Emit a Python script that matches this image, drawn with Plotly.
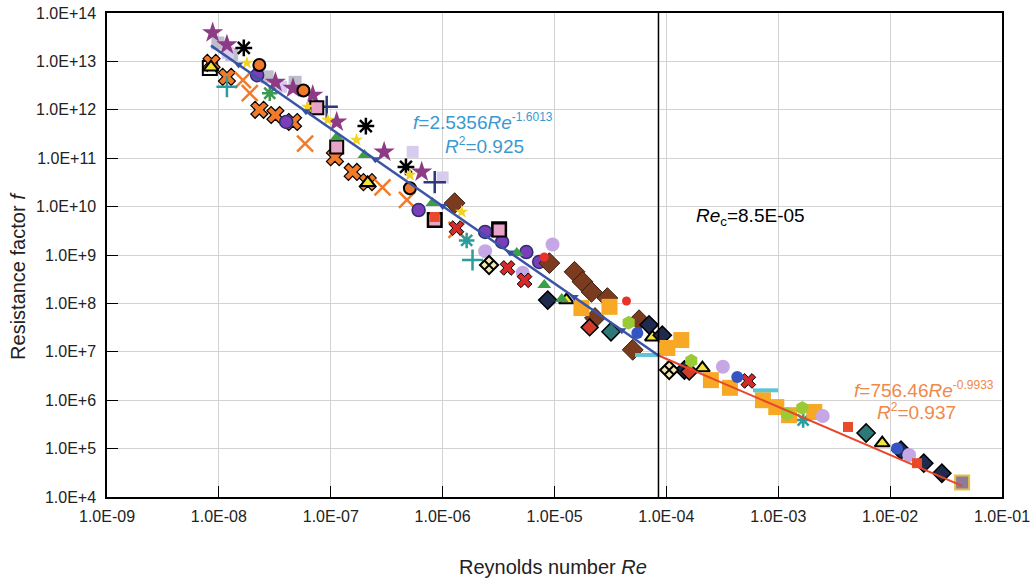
import plotly.graph_objects as go

# ---------------- data ----------------
x_tick_vals = [1e-9, 1e-8, 1e-7, 1e-6, 1e-5, 1e-4, 1e-3, 1e-2, 1e-1]
x_tick_text = ["1.0E-09", "1.0E-08", "1.0E-07", "1.0E-06", "1.0E-05",
               "1.0E-04", "1.0E-03", "1.0E-02", "1.0E-01"]
y_tick_vals = [1e4, 1e5, 1e6, 1e7, 1e8, 1e9, 1e10, 1e11, 1e12, 1e13, 1e14]
y_tick_text = ["1.0E+4", "1.0E+5", "1.0E+6", "1.0E+7", "1.0E+8", "1.0E+9",
               "1.0E+10", "1.0E+11", "1.0E+12", "1.0E+13", "1.0E+14"]

re_critical = 8.5e-5

# fitted trend lines (end points)
fit_low_re = [8.5e-9, 8.5e-5]
fit_low_f = [2.12e13, 8.4e6]
fit_high_re = [8.5e-5, 4.4e-2]
fit_high_f = [8.4e6, 1.7e4]

black_square_re = [8.3e-9, 8.5e-7, 3.2e-6]
black_square_f = [7.3e12, 5.3e9, 3.4e9]

silver_re = [9.8e-9, 2.7e-8, 4.8e-8, 1.3e-8]
silver_f = [2.4e13, 4.8e12, 3.7e12, 1.4e13]

pale_lav_re = [1.2e-8, 5.4e-7, 1.0e-6, 3.6e-8]
pale_lav_f = [1.5e13, 1.35e11, 4.0e10, 3.0e12]

orange_xf_re = [8.6e-9, 1.18e-8, 2.3e-8, 3.2e-8, 4.6e-8, 1.09e-7, 1.57e-7, 2.14e-7]
orange_xf_f = [9.3e12, 4.8e12, 1.0e12, 7.8e11, 5.6e11, 1.05e11, 5.2e10, 3.2e10]

orange_x_re = [1.64e-8, 1.89e-8, 5.9e-8, 2.9e-7, 4.8e-7, 1.33e-6]
orange_x_f = [4.1e12, 2.2e12, 2.0e11, 2.5e10, 1.37e10, 3.3e9]

star_re = [8.8e-9, 1.18e-8, 3.2e-8, 4.6e-8, 6.9e-8, 1.13e-7, 3.0e-7, 6.5e-7]
star_f = [3.9e13, 2.2e13, 3.7e12, 2.8e12, 2.0e12, 5.6e11, 1.35e11, 5.2e10]

asterisk_re = [1.67e-8, 2.06e-7, 4.7e-7]
asterisk_f = [1.9e13, 4.6e11, 6.6e10]

navy_cross_re = [9.2e-8, 8.5e-7]
navy_cross_f = [1.15e12, 3.2e10]

teal_cross_re = [1.18e-8, 1.85e-6]
teal_cross_f = [3.0e12, 7.9e8]

teal_ast_re = [1.64e-6, 1.67e-3]
teal_ast_f = [2.0e9, 3.9e5]

green_ast_re = [2.85e-8]
green_ast_f = [2.2e12]

purple_circ_re = [2.2e-8, 4.0e-8, 6.1e-7, 2.4e-6, 3.4e-6, 5.6e-6, 7.3e-6]
purple_circ_f = [5.2e12, 5.6e11, 8.5e9, 3.0e9, 1.86e9, 1.15e9, 7.2e8]

orange_circ_re = [2.3e-8, 5.7e-8, 5.1e-7]
orange_circ_f = [8.4e12, 2.5e12, 2.4e10]

pink_sq_re = [7.5e-8, 1.13e-7, 8.5e-7, 3.2e-6]
pink_sq_f = [1.1e12, 1.7e11, 5.3e9, 3.3e9]

yellow_tri_re = [8.5e-9, 2.14e-7, 1.28e-5, 7.5e-5, 2.1e-4, 8.5e-3]
yellow_tri_f = [7.6e12, 3.1e10, 1.17e8, 2.0e7, 4.6e6, 1.3e5]

brown_re = [1.28e-6, 9.0e-6, 1.51e-5, 1.78e-5, 2.14e-5, 2.97e-5, 2.3e-5, 5.7e-5, 5.0e-5]
brown_f = [1.18e10, 6.8e8, 4.5e8, 2.8e8, 1.73e8, 1.29e8, 5.0e7, 4.5e7, 1.1e7]

navy_dia_re = [8.7e-6, 7.0e-5, 9.2e-5, 1.45e-4, 1.25e-2, 2.0e-2, 2.9e-2]
navy_dia_f = [1.17e8, 3.6e7, 2.2e7, 4.2e6, 9.3e4, 5.0e4, 3.1e4]

teal_dia_re = [3.2e-5, 6.1e-3]
teal_dia_f = [2.6e7, 2.1e5]

red_dia_re = [2.06e-5, 1.6e-4]
red_dia_f = [3.2e7, 3.9e6]

orange_sq_re = [1.74e-5, 3.1e-5, 1.02e-4, 1.36e-4, 2.5e-4, 3.7e-4, 7.3e-4, 9.6e-4, 2.1e-3, 1.25e-3]
orange_sq_f = [8.0e7, 8.5e7, 1.2e7, 1.75e7, 2.6e6, 1.8e6, 1.0e6, 7.2e5, 5.7e5, 4.9e5]

lime_re = [4.6e-5, 1.67e-4, 1.64e-3, 1.2e-3]
lime_f = [4.0e7, 6.5e6, 6.9e5, 5.2e5]

lavender_re = [2.4e-6, 5.2e-6, 9.6e-6, 3.2e-4, 2.5e-3, 1.48e-2]
lavender_f = [1.2e9, 4.3e8, 1.65e9, 4.9e6, 4.7e5, 7.4e4]

red_dot_re = [8.1e-6, 4.4e-5]
red_dot_f = [9.1e8, 1.12e8]

red_sq_re = [8.5e-7, 4.2e-3, 1.74e-2]
red_sq_f = [6.1e9, 2.8e5, 5.0e4]

red_x_re = [1.33e-6, 3.8e-6, 5.4e-6, 5.4e-4]
red_x_f = [3.6e9, 5.4e8, 3.0e8, 2.5e6]

cyan_re = [6.8e-5, 7.7e-4]
cyan_f = [8.6e6, 1.6e6]

green_tri_re = [1.13e-7, 2.0e-7, 8.1e-7, 4.6e-6, 8.1e-6, 1.16e-5]
green_tri_f = [2.7e11, 1.17e11, 1.18e10, 1.1e9, 2.4e8, 1.23e8]

yellow_star_re = [1.78e-8, 6.2e-8, 9.4e-8, 1.7e-7, 5.1e-7, 1.48e-6]
yellow_star_f = [9.3e12, 1.15e12, 6.2e11, 2.4e11, 4.5e10, 7.8e9]

dia_x_re = [2.6e-6, 1.06e-4]
dia_x_f = [6.2e8, 4.2e6]

blue_circ_re = [5.5e-5, 4.3e-4, 1.15e-2]
blue_circ_f = [2.45e7, 3.0e6, 1.0e5]

blue_tri_re = [1.5e-8, 6e-8, 2.5e-7, 1.0e-6, 4e-6, 1.5e-5, 4e-5]
blue_tri_f = [8.6e12, 9.3e11, 9.5e10, 1.03e10, 1.12e9, 1.35e8, 2.8e7]

end_re = [4.4e-2]
end_f = [2.0e4]

# ---------------- figure ----------------
fig = go.Figure()

def add(xs, ys, symbol, color, size, lw=0, lc="black"):
    fig.add_trace(go.Scatter(
        x=xs, y=ys, mode="markers", showlegend=False, hoverinfo="skip",
        marker=dict(symbol=symbol, color=color, size=size,
                    line=dict(width=lw, color=lc))))

add(black_square_re, black_square_f, "square-open", "black", 14, 2, "black")
add(silver_re, silver_f, "square", "#BDBDCB", 13)
add(pale_lav_re, pale_lav_f, "square", "#D8CCEE", 12)
add(orange_xf_re, orange_xf_f, "x", "#F27B2B", 15, 1.2, "black")
add(orange_x_re, orange_x_f, "x-thin-open", "#F27B2B", 16, 2.5, "#F27B2B")
add(star_re, star_f, "star", "#8E3B86", 16)
add(asterisk_re, asterisk_f, "asterisk-open", "black", 14, 2.5, "black")
add(navy_cross_re, navy_cross_f, "cross-thin-open", "#2B3A7A", 16, 2.5, "#2B3A7A")
add(teal_cross_re, teal_cross_f, "cross-thin-open", "#2A9C9C", 15, 2.5, "#2A9C9C")
add(teal_ast_re, teal_ast_f, "asterisk-open", "#2A9C9C", 13, 2.5, "#2A9C9C")
add(green_ast_re, green_ast_f, "asterisk-open", "#3C9A50", 13, 2.5, "#3C9A50")
add(purple_circ_re, purple_circ_f, "circle", "#7A3EB8", 13, 1.5, "#2B2F6E")
add(orange_circ_re, orange_circ_f, "circle", "#F07A2A", 12, 2, "black")
add(pink_sq_re, pink_sq_f, "square", "#E9A3C9", 13, 2, "black")
add(yellow_tri_re, yellow_tri_f, "triangle-up", "#F2E33C", 13, 2, "black")
add(brown_re, brown_f, "diamond", "#7A3B1F", 16, 1, "#3A1E10")
add(navy_dia_re, navy_dia_f, "diamond", "#1E2A4E", 14, 1.5, "black")
add(teal_dia_re, teal_dia_f, "diamond", "#2F7878", 14, 1.5, "black")
add(red_dia_re, red_dia_f, "diamond", "#D33A2A", 13, 1.5, "black")
add(orange_sq_re, orange_sq_f, "square", "#F7A825", 16)
add(lime_re, lime_f, "hexagon", "#9BCB34", 14)
add(lavender_re, lavender_f, "circle", "#C6A7E6", 14)
add(red_dot_re, red_dot_f, "circle", "#E8322A", 9)
add(red_sq_re, red_sq_f, "square", "#E84A2A", 10)
add(red_x_re, red_x_f, "x", "#D42A2A", 13, 1, "black")
add(cyan_re, cyan_f, "line-ew-open", "#5CC6D6", 18, 4, "#5CC6D6")
add(green_tri_re, green_tri_f, "triangle-up", "#3AA048", 12)
add(yellow_star_re, yellow_star_f, "star", "#F5D21F", 10)
add(dia_x_re, dia_x_f, "diamond-x", "#F3E9B0", 14, 2, "black")
add(blue_circ_re, blue_circ_f, "circle", "#3454C4", 12)
add(end_re, end_f, "square", "#8C7C9C", 14, 2, "#E8C040")

# trend lines
fig.add_trace(go.Scatter(x=fit_low_re, y=fit_low_f, mode="lines", showlegend=False,
                         line=dict(color="#3A55A5", width=2.5), hoverinfo="skip"))
fig.add_trace(go.Scatter(x=fit_high_re, y=fit_high_f, mode="lines", showlegend=False,
                         line=dict(color="#E8452A", width=2), hoverinfo="skip"))
add(blue_tri_re, blue_tri_f, "triangle-down", "#3550A0", 8)

# critical Reynolds number line
fig.add_trace(go.Scatter(x=[re_critical, re_critical], y=[y_tick_vals[0], y_tick_vals[-1]],
                         mode="lines", showlegend=False, hoverinfo="skip",
                         line=dict(color="black", width=1.5)))

font_family = "Liberation Sans, Arial, sans-serif"
blue_txt = "#3A9AD0"
orange_txt = "#F0884A"
SUP = '<sup><span style="font-size:12px">{}</span></sup>'

annotations = [
    dict(x=0.420, y=0.775, text="<i>f</i>=2.5356<i>Re</i>" + SUP.format("-1.6013"),
         font=dict(color=blue_txt, size=19)),
    dict(x=0.422, y=0.726, text="<i>R</i>" + SUP.format("2") + "=0.925",
         font=dict(color=blue_txt, size=19)),
    dict(x=0.719, y=0.579, text="<i>Re</i><sub>c</sub>=8.5E-05",
         font=dict(color="black", size=19)),
    dict(x=0.913, y=0.223, text="<i>f</i>=756.46<i>Re</i>" + SUP.format("-0.9933"),
         font=dict(color=orange_txt, size=19)),
    dict(x=0.905, y=0.176, text="<i>R</i>" + SUP.format("2") + "=0.937",
         font=dict(color=orange_txt, size=19)),
    # axis titles
    dict(x=0.498, y=-0.145, text="Reynolds number <i>Re</i>",
         font=dict(color="#222222", size=20)),
    dict(x=-0.0993, y=0.457, text="Resistance factor <i>f</i>", textangle=-90,
         font=dict(color="#222222", size=20)),
]
for a in annotations:
    a.update(xref="paper", yref="paper", showarrow=False,
             xanchor="center", yanchor="middle")
    a["font"]["family"] = font_family

axis_common = dict(
    type="log", tickcolor="black", tickwidth=1, ticks="inside", ticklen=11,
    showline=True, linecolor="black", linewidth=1.5, mirror=True,
    showgrid=True, gridcolor="#D3D3D3", gridwidth=1, zeroline=False,
    automargin=False, ticklabeloverflow="allow",
    tickfont=dict(size=16, color="#222222"),
)

fig.update_layout(
    width=1030, height=585,
    margin=dict(l=107, r=28, t=13, b=88, pad=0),
    paper_bgcolor="white", plot_bgcolor="white",
    font=dict(family=font_family, color="#222222", size=16),
    annotations=annotations,
    xaxis=dict(range=[-9, -1], tickvals=x_tick_vals, ticktext=x_tick_text,
               ticklabelstandoff=4, **axis_common),
    yaxis=dict(range=[4, 14], tickvals=y_tick_vals, ticktext=y_tick_text,
               ticklabelstandoff=6, **axis_common),
)

fig.write_html("out.html", config={"displayModeBar": False},
               post_script="document.body.style.margin='0';")
